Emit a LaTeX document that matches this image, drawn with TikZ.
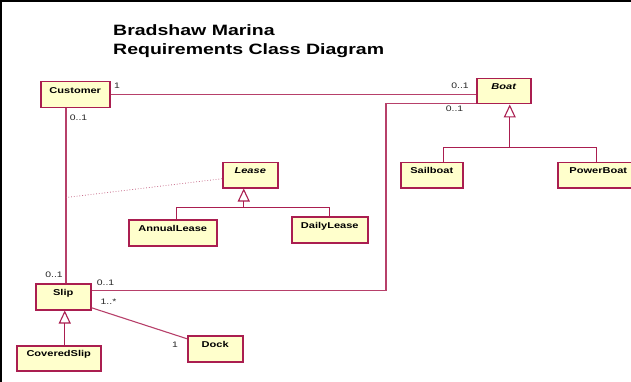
\documentclass[tikz,border=0pt]{standalone}
\usepackage{fontspec}
\setmainfont{Liberation Sans}[FakeStretch=1.3]
\usetikzlibrary{arrows.meta,calc}
\definecolor{umlred}{RGB}{170,30,80}
\definecolor{umlfill}{RGB}{255,255,204}
\definecolor{umlpink}{RGB}{200,110,140}
\tikzset{
  umlclass/.style={draw=umlred,fill=umlfill,line width=1.5pt,anchor=north west,
    font=\fontsize{8.5}{10}\selectfont\bfseries,inner xsep=2pt,inner ysep=5pt,
    text height=6pt,text depth=9pt},
  assoc/.style={draw=umlred!85!white,line width=1.1pt},
  tree/.style={draw=umlred,line width=1.1pt},
  gen/.style={tree,-{Triangle[open,length=13pt,width=12pt]}},
  mult/.style={font=\fontsize{8}{9}\selectfont,inner sep=0pt,text=black!85},
}
\begin{document}
\begin{tikzpicture}[x=1pt,y=-1pt]
\useasboundingbox (0,0) rectangle (631,382);
\draw[line width=2.5pt] (1.2,382) -- (1.2,1.2) -- (631,1.2);
\node[anchor=north west,align=left,inner sep=0pt,font=\fontsize{15}{19}\selectfont\bfseries] (title) at (113,24) {Bradshaw Marina\\Requirements Class Diagram};
% classes: name/left/top/width/height/label
\foreach \nm/\x/\y/\w/\h/\lab in {Customer/40/81/69/26/Customer,Boat/476/78/54/25/{\itshape Boat},
  Lease/222/162/55/25/{\itshape Lease},AnnualLease/128/219/88/26/AnnualLease,DailyLease/291/216/76/26/DailyLease,
  Sailboat/400/162/62/25/Sailboat,PowerBoat/557/162/81/25/PowerBoat,Slip/35/283/55/26/Slip,
  CoveredSlip/16/345/84/25/CoveredSlip,Dock/187/335/55/26/Dock}{
  \node[umlclass,minimum width=\w pt,minimum height=\h pt] (\nm) at (\x,\y) {\lab};}
% associations
\draw[assoc] (Customer.east) -- (Customer.east -| Boat.west);
\coordinate (custdown) at ($(Customer.south west)+(26,0)$);
\draw[assoc] (custdown) -- (custdown |- Slip.north);
\coordinate (leaselink) at ($(custdown)+(0,89)$);
\draw[umlpink,dotted,line width=0.8pt] ([yshift=-3.5pt]Lease.west) -- (leaselink);
\draw[assoc] ([yshift=1pt]Boat.south west) -- ++(-90,0) |- ([yshift=6pt]Slip.east);
\draw[assoc] ([yshift=-11pt]Slip.east) -- ([yshift=10pt]Dock.west);
% generalizations
\coordinate (boatjoin) at ($(Boat.south)+(6,43)$);
\draw[gen] (boatjoin) -- (boatjoin |- Boat.south);
\draw[tree] ([xshift=12pt]Sailboat.north) |- (boatjoin) -| ([xshift=-1.5pt]PowerBoat.north);
\coordinate (leasejoin) at ($(Lease.south)+(-6.5,19)$);
\draw[gen] (leasejoin) -- (leasejoin |- Lease.south);
\draw[tree] ([xshift=4pt]AnnualLease.north) |- (leasejoin) -| (DailyLease.north);
\draw[gen] ($(Slip.south |- CoveredSlip.north)+(1.5,0)$) -- ($(Slip.south)+(1.5,0)$);
% multiplicities
\foreach \nm/\x/\y/\txt in {custboat/117/86/1,boatcust/460/86/0..1,custslip/78.5/118/0..1,boatslip/454.5/109/0..1,
  slipcust/54/275/0..1,slipboat/105.5/283/0..1,slipdock/108.5/301.5/1..*,dockslip/175/345/1}{
  \node[mult] (\nm) at (\x,\y) {\txt};}
\end{tikzpicture}
\end{document}
